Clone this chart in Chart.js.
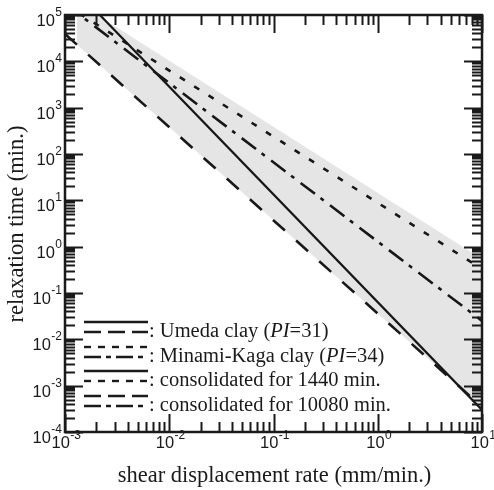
<!DOCTYPE html>
<html>
<head>
<meta charset="utf-8">
<script src="https://cdn.jsdelivr.net/npm/chart.js@4.4.1/dist/chart.umd.min.js"></script>
<style>
  body { margin: 0; background: #fff; }
  canvas { display: block; }
</style>
</head>
<body>
<canvas id="myChart" width="494" height="490"></canvas>
<script>
// values: every line is straight on the log-log axes,
// so each one is given by its value at the two ends of the rate range
const rateEnds = [0.001, 10];
const umedaSolid = [6.0e5, 3.0e-4];
const umedaDashed = [3.9e4, 3.5e-4];
const kagaDotted = [1.7e5, 0.33];
const kagaDashDot = [1.75e5, 0.025];

// grey band behind the lines
const bandRate = [0.0013, 10];
const bandUpper = [1.9e5, 0.54];
const bandLower = [2.3e4, 3.5e-4];

const xTickExps = [-3, -2, -1, 0, 1];
const yTickExps = [-4, -3, -2, -1, 0, 1, 2, 3, 4, 5];

const ink = '#1a1a1a';

function pts(xs, ys) {
  return xs.map((v, i) => ({ x: v, y: ys[i] }));
}

function lineSet(xs, ys, dash, w) {
  return {
    data: pts(xs, ys),
    borderColor: ink,
    borderWidth: w,
    borderDash: dash,
    borderCapStyle: 'butt',
    pointRadius: 0,
    showLine: true,
    fill: false,
    tension: 0
  };
}

const datasets = [
  {
    data: pts(bandRate, bandUpper),
    borderWidth: 0,
    borderColor: 'rgba(0,0,0,0)',
    backgroundColor: 'rgba(0,0,0,0.1)',
    pointRadius: 0,
    showLine: true,
    fill: '+1'
  },
  {
    data: pts(bandRate, bandLower),
    borderWidth: 0,
    borderColor: 'rgba(0,0,0,0)',
    pointRadius: 0,
    showLine: true,
    fill: false
  },
  lineSet(rateEnds, kagaDotted, [6, 11], 2.6),
  lineSet(rateEnds, kagaDashDot, [18, 7, 4, 8], 2.6),
  lineSet(rateEnds, umedaDashed, [16, 15], 2.6),
  lineSet(rateEnds, umedaSolid, [], 2.2)
];

// legend rows: text pieces (italic flag) and the two line samples
const legendRows = [
  { parts: [[': Umeda clay (', false], ['PI', true], ['=31)', false]], top: [], bottom: [17, 7] },
  { parts: [[': Minami-Kaga clay (', false], ['PI', true], ['=34)', false]], top: [7, 7], bottom: [17, 5, 5, 5] },
  { parts: [[': consolidated for 1440 min.', false]], top: [], bottom: [7, 7] },
  { parts: [[': consolidated for 10080 min.', false]], top: [17, 7], bottom: [17, 5, 5, 5] }
];
const legendY = [322, 347, 371, 396];

const framePlugin = {
  id: 'frame',
  afterDatasetsDraw(chart) {
    const { ctx, chartArea: a, scales: { x, y } } = chart;
    ctx.save();
    ctx.strokeStyle = ink;
    ctx.fillStyle = ink;

    // inward ticks on all four sides
    ctx.lineWidth = 2;
    ctx.beginPath();
    for (let e = -3; e <= 1; e++) {
      for (let k = 1; k <= 9; k++) {
        if (e === 1 && k > 1) break;
        const px = Math.round(x.getPixelForValue(k * Math.pow(10, e))) + 0.5;
        const len = k === 1 ? 18 : 10;
        ctx.moveTo(px, a.bottom); ctx.lineTo(px, a.bottom - len);
        ctx.moveTo(px, a.top); ctx.lineTo(px, a.top + len);
      }
    }
    for (let e = -4; e <= 5; e++) {
      for (let k = 1; k <= 9; k++) {
        if (e === 5 && k > 1) break;
        const py = Math.round(y.getPixelForValue(k * Math.pow(10, e))) + 0.5;
        const len = k === 1 ? 18 : 10;
        ctx.moveTo(a.left, py); ctx.lineTo(a.left + len, py);
        ctx.moveTo(a.right, py); ctx.lineTo(a.right - len, py);
      }
    }
    ctx.stroke();

    ctx.lineWidth = 2.5;
    ctx.strokeRect(a.left, a.top, a.right - a.left, a.bottom - a.top);

    // tick labels 10^n
    const big = '16.5px "Liberation Sans", Arial, sans-serif';
    const sup = '12px "Liberation Sans", Arial, sans-serif';
    ctx.textBaseline = 'alphabetic';
    ctx.textAlign = 'left';
    xTickExps.forEach(e => {
      const px = x.getPixelForValue(Math.pow(10, e));
      ctx.font = big; const w1 = ctx.measureText('10').width;
      ctx.font = sup; const s = String(e); const w2 = ctx.measureText(s).width;
      const x0 = px - (w1 + w2) / 2 + 1;
      ctx.font = big; ctx.fillText('10', x0, a.bottom + 16);
      ctx.font = sup; ctx.fillText(s, x0 + w1 + 0.5, a.bottom + 7);
    });
    yTickExps.forEach(e => {
      const py = y.getPixelForValue(Math.pow(10, e));
      ctx.font = sup; const s = String(e); const w2 = ctx.measureText(s).width;
      ctx.font = big; const w1 = ctx.measureText('10').width;
      const right = a.left - 3;
      ctx.font = big; ctx.fillText('10', right - w2 - w1 - 0.5, py + 11);
      ctx.font = sup; ctx.fillText(s, right - w2, py + 1);
    });

    // axis titles
    ctx.font = '22.5px "Liberation Serif", "Times New Roman", serif';
    ctx.textAlign = 'center';
    ctx.fillText('shear displacement rate (mm/min.)', (a.left + a.right) / 2 + 1, 482);
    ctx.save();
    ctx.translate(23, 224);
    ctx.rotate(-Math.PI / 2);
    ctx.fillText('relaxation time (min.)', 0, 0);
    ctx.restore();

    // legend
    ctx.textAlign = 'left';
    legendRows.forEach((row, i) => {
      const t = legendY[i];
      ctx.lineWidth = 2.4;
      ctx.lineCap = 'butt';
      ctx.setLineDash(row.top);
      ctx.beginPath(); ctx.moveTo(84, t); ctx.lineTo(148, t); ctx.stroke();
      ctx.setLineDash(row.bottom);
      ctx.beginPath(); ctx.moveTo(84, t + 10); ctx.lineTo(148, t + 10); ctx.stroke();
      ctx.setLineDash([]);
      let tx = 149;
      row.parts.forEach(([txt, it]) => {
        ctx.font = (it ? 'italic ' : '') + '20.5px "Liberation Serif", "Times New Roman", serif';
        ctx.fillText(txt, tx, t + 15);
        tx += ctx.measureText(txt).width;
      });
    });
    ctx.restore();
  }
};

const config = {
  type: 'scatter',
  data: { datasets: datasets },
  options: {
    responsive: false,
    animation: false,
    devicePixelRatio: 1,
    layout: { padding: { left: 65, right: 12, top: 15, bottom: 58 } },
    scales: {
      x: { type: 'logarithmic', min: 0.001, max: 10, display: false },
      y: { type: 'logarithmic', min: 1e-4, max: 1e5, display: false }
    },
    plugins: {
      legend: { display: false },
      tooltip: { enabled: false }
    }
  },
  plugins: [framePlugin]
};

const myChart = new Chart(document.getElementById('myChart'), config);
</script>
</body>
</html>
